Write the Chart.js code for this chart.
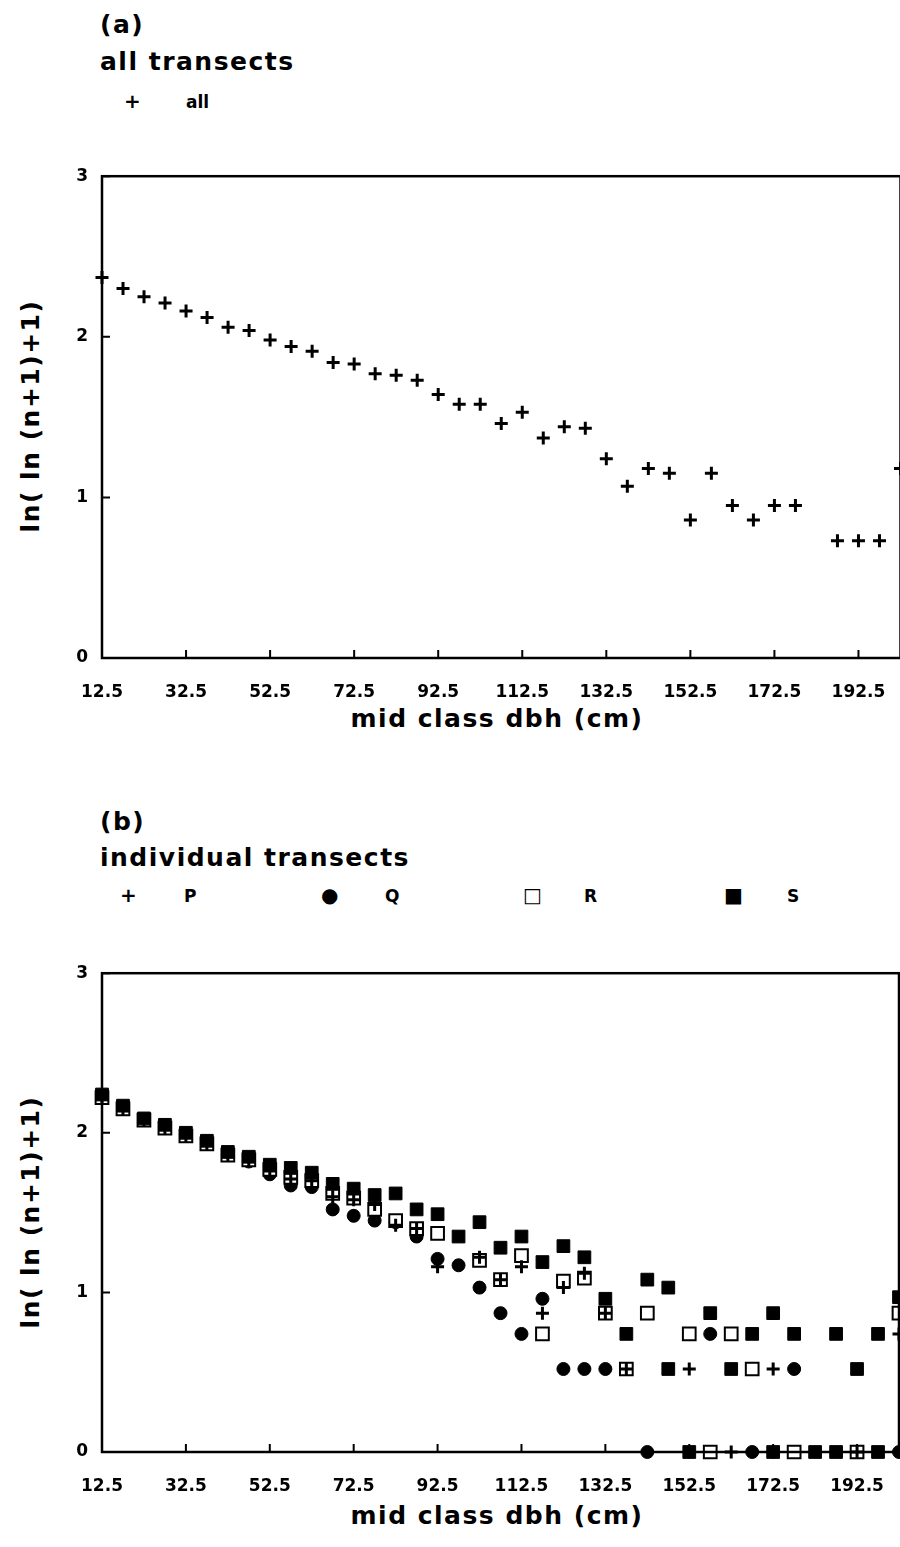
<!DOCTYPE html>
<html>
<head>
<meta charset="utf-8">
<script src="https://cdn.jsdelivr.net/npm/chart.js@4"></script>
<style>
  html, body { margin: 0; padding: 0; background: #fff; overflow: hidden; width: 900px; height: 1547px; }
  body { position: relative; font-family: "DejaVu Sans", "Liberation Sans", sans-serif; font-weight: bold; color: #000; }
  .t { position: absolute; white-space: nowrap; line-height: 1; }
  .big { font-size: 25px; letter-spacing: 1.5px; }
  .leg { font-size: 17px; }
  .sym { font-size: 20px; }
  .cv { position: absolute; left: 0; width: 910px; }
  .ytitle { position: absolute; font-size: 25px; letter-spacing: 1.5px; transform: translate(-50%, -50%) rotate(-90deg); white-space: nowrap; }
  .xt { left: 0; width: 994px; text-align: center; }
</style>
</head>
<body>
<div class="t big" style="left:100px; top:12px;">(a)</div>
<div class="t big" style="left:100px; top:49px;">all transects</div>
<div class="t sym" style="left:124px; top:91px;">+</div>
<div class="t leg" style="left:186px; top:94px;">all</div>
<div class="ytitle" style="left:30px; top:416px;">ln( ln (n+1)+1)</div>
<div class="t big xt" style="top:706px;">mid class dbh (cm)</div>
<div class="cv" style="top:152px; height:588px;"><canvas id="chartA"></canvas></div>

<div class="t big" style="left:100px; top:809px;">(b)</div>
<div class="t big" style="left:100px; top:845px;">individual transects</div>
<div class="t sym" style="left:120px; top:885px;">+</div>
<div class="t leg" style="left:184px; top:888px;">P</div>
<div class="t sym" style="left:321px; top:885px;">●</div>
<div class="t leg" style="left:385px; top:888px;">Q</div>
<div class="t sym" style="left:523px; top:885px;">□</div>
<div class="t leg" style="left:584px; top:888px;">R</div>
<div class="t sym" style="left:724px; top:885px;">■</div>
<div class="t leg" style="left:787px; top:888px;">S</div>
<div class="ytitle" style="left:30px; top:1212px;">ln( ln (n+1)+1)</div>
<div class="t big xt" style="top:1503px;">mid class dbh (cm)</div>
<div class="cv" style="top:949px; height:598px;"><canvas id="chartB"></canvas></div>

<script>
// tick labels
const xTicks = [12.5, 32.5, 52.5, 72.5, 92.5, 112.5, 132.5, 152.5, 172.5, 192.5];
const yTicks = [0, 1, 2, 3];

// (a) all transects
const allX = [12.5, 17.5, 22.5, 27.5, 32.5, 37.5, 42.5, 47.5, 52.5, 57.5, 62.5, 67.5, 72.5, 77.5, 82.5, 87.5, 92.5, 97.5, 102.5, 107.5,
  112.5, 117.5, 122.5, 127.5, 132.5, 137.5, 142.5, 147.5, 152.5, 157.5, 162.5, 167.5, 172.5, 177.5, 187.5, 192.5, 197.5, 202.5];
const allY = [2.37, 2.30, 2.25, 2.21, 2.16, 2.12, 2.06, 2.04, 1.98, 1.94, 1.91, 1.84, 1.83, 1.77, 1.76, 1.73, 1.64, 1.58, 1.58, 1.46,
  1.53, 1.37, 1.44, 1.43, 1.24, 1.07, 1.18, 1.15, 0.86, 1.15, 0.95, 0.86, 0.95, 0.95, 0.73, 0.73, 0.73, 1.18];

// (b) individual transects
const pX = [12.5, 17.5, 22.5, 27.5, 32.5, 37.5, 42.5, 47.5, 52.5, 57.5, 62.5, 67.5, 72.5, 77.5, 82.5, 87.5, 92.5, 102.5, 107.5,
  112.5, 117.5, 122.5, 127.5, 132.5, 137.5, 152.5, 152.5, 162.5, 172.5, 172.5, 192.5, 202.5];
const pY = [2.22, 2.15, 2.08, 2.03, 1.98, 1.93, 1.86, 1.83, 1.76, 1.71, 1.70, 1.60, 1.58, 1.55, 1.42, 1.40, 1.16, 1.22, 1.08,
  1.16, 0.87, 1.03, 1.12, 0.87, 0.52, 0.52, 0, 0, 0.52, 0, 0, 0.74];

const qX = [12.5, 17.5, 22.5, 27.5, 32.5, 37.5, 42.5, 47.5, 52.5, 57.5, 62.5, 67.5, 72.5, 77.5, 82.5, 87.5, 92.5, 97.5, 102.5, 107.5,
  112.5, 117.5, 122.5, 127.5, 132.5, 142.5, 157.5, 167.5, 177.5, 202.5];
const qY = [2.23, 2.16, 2.08, 2.04, 1.99, 1.93, 1.86, 1.82, 1.74, 1.67, 1.66, 1.52, 1.48, 1.45, 1.44, 1.35, 1.21, 1.17, 1.03, 0.87,
  0.74, 0.96, 0.52, 0.52, 0.52, 0, 0.74, 0, 0.52, 0];

const rX = [12.5, 17.5, 22.5, 27.5, 32.5, 37.5, 42.5, 47.5, 52.5, 57.5, 62.5, 67.5, 72.5, 77.5, 82.5, 87.5, 92.5, 102.5, 107.5,
  112.5, 117.5, 122.5, 127.5, 132.5, 137.5, 142.5, 152.5, 157.5, 162.5, 167.5, 177.5, 192.5, 202.5];
const rY = [2.22, 2.15, 2.08, 2.03, 1.98, 1.93, 1.86, 1.83, 1.77, 1.72, 1.70, 1.62, 1.59, 1.52, 1.45, 1.40, 1.37, 1.20, 1.08,
  1.23, 0.74, 1.07, 1.09, 0.87, 0.52, 0.87, 0.74, 0, 0.74, 0.52, 0, 0, 0.87];

const sX = [12.5, 17.5, 22.5, 27.5, 32.5, 37.5, 42.5, 47.5, 52.5, 57.5, 62.5, 67.5, 72.5, 77.5, 82.5, 87.5, 92.5, 97.5, 102.5, 107.5,
  112.5, 117.5, 122.5, 127.5, 132.5, 137.5, 142.5, 147.5, 147.5, 152.5, 157.5, 162.5, 167.5, 172.5, 172.5, 177.5, 182.5,
  187.5, 187.5, 192.5, 197.5, 197.5, 202.5];
const sY = [2.24, 2.17, 2.09, 2.05, 2.00, 1.95, 1.88, 1.85, 1.80, 1.78, 1.75, 1.68, 1.65, 1.61, 1.62, 1.52, 1.49, 1.35, 1.44, 1.28,
  1.35, 1.19, 1.29, 1.22, 0.96, 0.74, 1.08, 1.03, 0.52, 0, 0.87, 0.52, 0.74, 0.87, 0, 0.74, 0,
  0.74, 0, 0.52, 0.74, 0, 0.97];

function pts(xs, ys) { return xs.map((x, i) => ({ x: x, y: ys[i] })); }

const frame = {
  id: 'frame',
  afterDraw(chart) {
    const { ctx, chartArea: a, scales } = chart;
    ctx.save();
    ctx.strokeStyle = '#000';
    ctx.lineWidth = 2.5;
    ctx.strokeRect(a.left, a.top, a.right - a.left, a.bottom - a.top);
    ctx.lineWidth = 2;
    ctx.beginPath();
    xTicks.forEach(v => {
      const px = scales.x.getPixelForValue(v);
      ctx.moveTo(px, a.bottom); ctx.lineTo(px, a.bottom - 8);
    });
    yTicks.forEach(v => {
      const py = scales.y.getPixelForValue(v);
      ctx.moveTo(a.left, py); ctx.lineTo(a.left + 8, py);
    });
    ctx.stroke();
    ctx.restore();
  }
};

const tickFont = { family: 'DejaVu Sans', weight: 'bold', size: 17 };

function options(xHeight) {
  return {
    responsive: true,
    maintainAspectRatio: false,
    animation: false,
    layout: { padding: { top: 7, right: 8 } },
    plugins: { legend: { display: false }, tooltip: { enabled: false } },
    scales: {
      x: {
        type: 'linear', min: 12.5, max: 202.5,
        afterBuildTicks: s => { s.ticks = xTicks.map(v => ({ value: v })); },
        afterFit: s => { s.height = xHeight; },
        grid: { display: false, drawTicks: false },
        border: { display: false },
        ticks: { padding: 24, color: '#000', maxRotation: 0, autoSkip: false,
          font: tickFont, callback: v => v.toFixed(1) }
      },
      y: {
        min: 0, max: 3,
        afterBuildTicks: s => { s.ticks = yTicks.map(v => ({ value: v })); },
        afterFit: s => { s.width = 102; },
        grid: { display: false, drawTicks: false },
        border: { display: false },
        ticks: { padding: 14, color: '#000', font: tickFont }
      }
    }
  };
}

new Chart(document.getElementById('chartA'), {
  type: 'scatter',
  data: {
    datasets: [{
      label: 'all',
      data: pts(allX, allY), clip: false,
      pointStyle: 'cross', pointRadius: 6.5, borderWidth: 3,
      borderColor: '#000', backgroundColor: '#000'
    }]
  },
  options: options(82),
  plugins: [frame]
});

new Chart(document.getElementById('chartB'), {
  type: 'scatter',
  data: {
    datasets: [
      { label: 'S', data: pts(sX, sY), clip: false, pointStyle: 'rect', pointRadius: 9, borderWidth: 1,
        borderColor: '#000', backgroundColor: '#000' },
      { label: 'P', data: pts(pX, pY), clip: false, pointStyle: 'cross', pointRadius: 6.5, borderWidth: 3,
        borderColor: '#000', backgroundColor: '#000' },
      { label: 'R', data: pts(rX, rY), clip: false, pointStyle: 'rect', pointRadius: 9, borderWidth: 2,
        borderColor: '#000', backgroundColor: '#fff' },
      { label: 'Q', data: pts(qX, qY), clip: false, pointStyle: 'circle', pointRadius: 6.5, borderWidth: 1,
        borderColor: '#000', backgroundColor: '#000' }
    ]
  },
  options: options(95),
  plugins: [frame]
});
</script>
</body>
</html>
